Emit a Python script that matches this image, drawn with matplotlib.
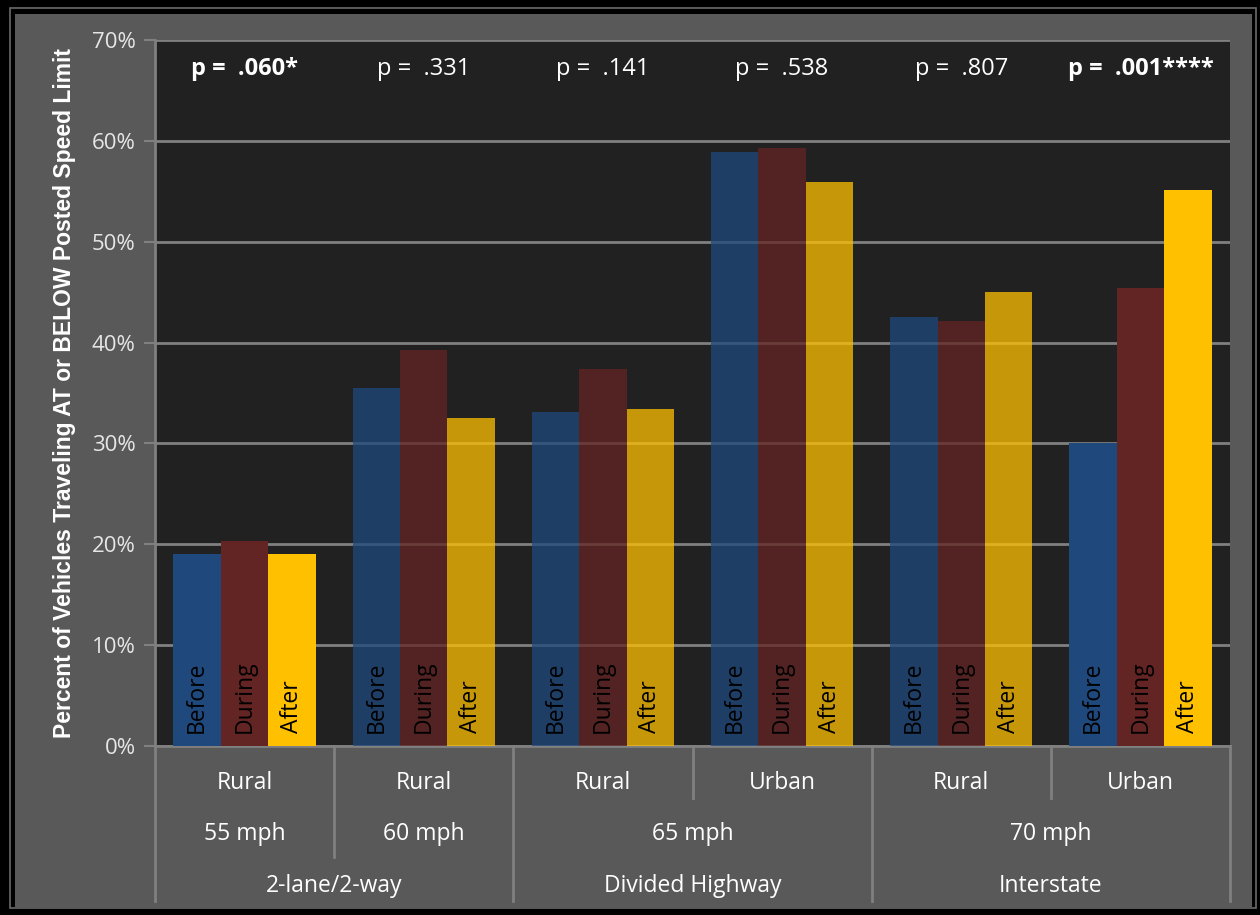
import numpy as np
import matplotlib.pyplot as plt
from matplotlib.patches import Rectangle
from matplotlib.lines import Line2D

# data
areas = ["Rural", "Rural", "Rural", "Urban", "Rural", "Urban"]
speeds = ["55 mph", "60 mph", "65 mph", "70 mph"]
speed_span = [(0, 0), (1, 1), (2, 3), (4, 5)]
roads = ["2-lane/2-way", "Divided Highway", "Interstate"]
road_span = [(0, 1), (2, 3), (4, 5)]
before = [19.0, 35.5, 33.1, 58.9, 42.5, 30.0]
during = [20.3, 39.3, 37.4, 59.3, 42.1, 45.4]
after = [19.0, 32.5, 33.4, 55.9, 45.0, 55.1]
pvals = ["p =  .060*", "p =  .331", "p =  .141", "p =  .538", "p =  .807", "p =  .001****"]
p_bold = [True, False, False, False, False, True]
bright = [True, False, False, False, False, True]  # highlighted groups

blue, red, gold = "#1F497D", "#632523", "#FFC000"
plt.rcParams['font.family'] = ['Open Sans', 'DejaVu Sans']

fig = plt.figure(figsize=(12.6, 9.15), dpi=100, facecolor="black")
# grey chart panel with thin frame lines
fig.patches.append(Rectangle((10/1260, 7/915), 1246/1260, 900/915, transform=fig.transFigure,
                             facecolor="none", edgecolor="#6a6a6a", lw=1.2, zorder=-2))
fig.patches.append(Rectangle((15/1260, 8/915), 1237/1260, 893/915, transform=fig.transFigure,
                             facecolor="#595959", edgecolor="none", zorder=-1))

ax = fig.add_axes([155/1260, 1 - 746/915, 1075/1260, 706/915])
ax.set_facecolor("#212121")
x = np.arange(6)
w = 0.265
for i in range(6):
    a = 1.0 if bright[i] else 0.75
    for off, vals, col, lab in [(-w, before, blue, "Before"), (0, during, red, "During"), (w, after, gold, "After")]:
        ax.bar(x[i] + off, vals[i], w, color=col, alpha=a, zorder=3, linewidth=0)
        ax.text(x[i] + off, 1.3, lab, rotation=90, ha="center", va="bottom", fontsize=16.5,
                color="black", zorder=4)
    ax.text(x[i], 67.1, pvals[i], ha="center", va="center", fontsize=17, color="white",
            fontweight="bold" if p_bold[i] else "normal")

ax.set_xlim(-0.5, 5.5)
ax.set_ylim(0, 70)
ax.set_yticks(np.arange(0, 71, 10))
ax.set_yticklabels([f"{v}%" for v in range(0, 71, 10)], fontsize=16, color="#e6e6e6")
ax.set_xticks([])
ax.yaxis.grid(True, color="#808080", lw=2, zorder=0)
ax.tick_params(axis="y", length=8, width=1.5, color="#808080", pad=6)
for s in ["top", "right"]:
    ax.spines[s].set_visible(False)
for s in ["left", "bottom"]:
    ax.spines[s].set_color("#808080")
    ax.spines[s].set_linewidth(2)
ax.set_ylabel("Percent of Vehicles Traveling AT or BELOW Posted Speed Limit", fontsize=16.5,
              color="white", fontweight="bold", family=["Liberation Sans", "DejaVu Sans"],
              labelpad=11)

# multi-level category axis
tr = ax.get_xaxis_transform()
y_row = [-0.052, -0.125, -0.199]
y_end = [-0.0737, -0.157, -0.2195]
for i, lab in enumerate(areas):
    ax.text(x[i], y_row[0], lab, transform=tr, ha="center", va="center", fontsize=16.5, color="white")
for lab, (a, b) in zip(speeds, speed_span):
    ax.text((a + b) / 2, y_row[1], lab, transform=tr, ha="center", va="center", fontsize=16.5, color="white")
for lab, (a, b) in zip(roads, road_span):
    ax.text((a + b) / 2, y_row[2], lab, transform=tr, ha="center", va="center", fontsize=16.5, color="white")

bounds = np.arange(7) - 0.5
for b in bounds:
    depth = 0
    if any(abs(b - (s[0] - 0.5)) < 1e-9 or abs(b - (s[1] + 0.5)) < 1e-9 for s in speed_span):
        depth = 1
    if any(abs(b - (s[0] - 0.5)) < 1e-9 or abs(b - (s[1] + 0.5)) < 1e-9 for s in road_span):
        depth = 2
    ax.add_line(Line2D([b, b], [0, y_end[depth]], transform=tr, color="#808080", lw=2, clip_on=False))

fig.savefig("out.png", dpi=100, facecolor=fig.get_facecolor())
